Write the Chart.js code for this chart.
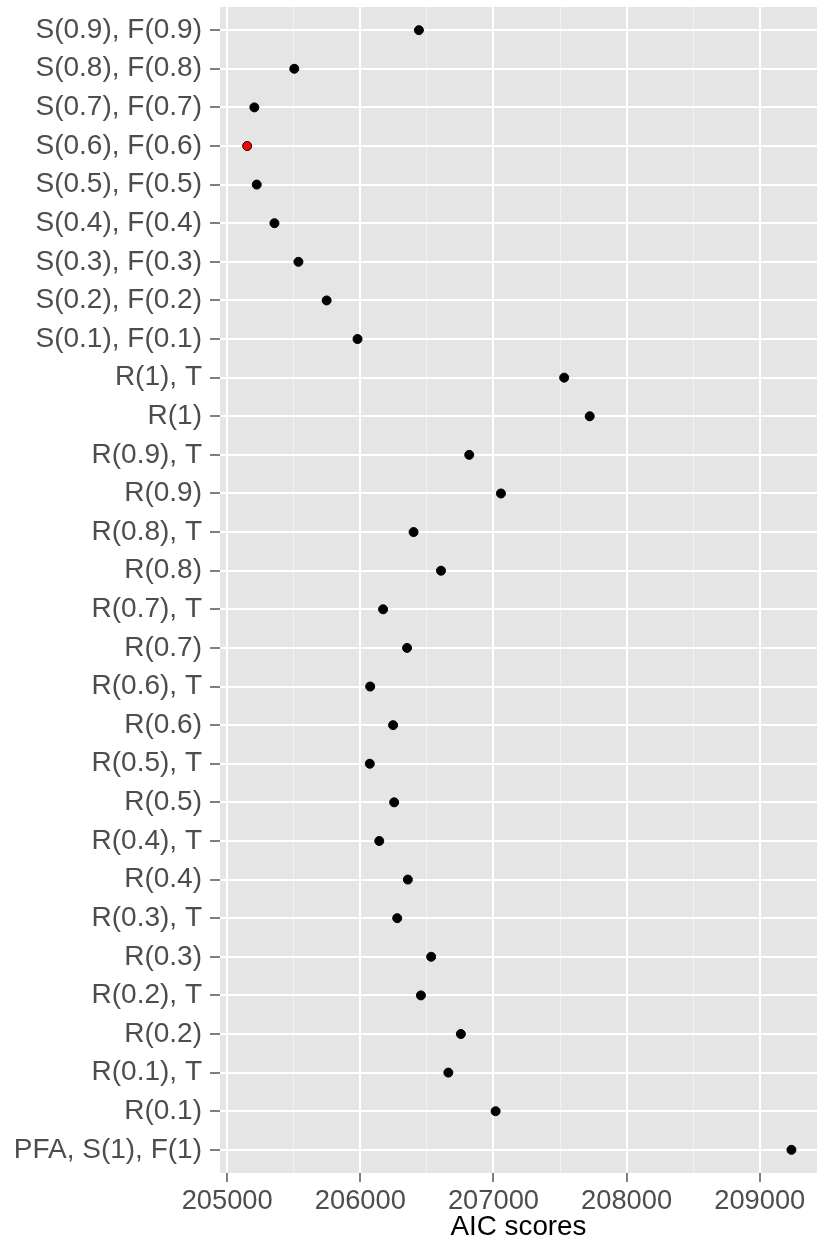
<!DOCTYPE html>
<html>
<head>
<meta charset="utf-8">
<script src="https://cdn.jsdelivr.net/npm/chart.js@4"></script>
<style>
    html, body { margin: 0; padding: 0; background: #ffffff; }
    #wrap { width: 817px; height: 1244px; }
</style>
</head>
<body>
<div id="wrap"><canvas id="myChart" width="817" height="1244"></canvas></div>
<script>
// models, top to bottom as in the figure
const models = [
    'S(0.9), F(0.9)', 'S(0.8), F(0.8)', 'S(0.7), F(0.7)', 'S(0.6), F(0.6)', 'S(0.5), F(0.5)',
    'S(0.4), F(0.4)', 'S(0.3), F(0.3)', 'S(0.2), F(0.2)', 'S(0.1), F(0.1)',
    'R(1), T', 'R(1)', 'R(0.9), T', 'R(0.9)', 'R(0.8), T', 'R(0.8)', 'R(0.7), T', 'R(0.7)',
    'R(0.6), T', 'R(0.6)', 'R(0.5), T', 'R(0.5)', 'R(0.4), T', 'R(0.4)', 'R(0.3), T', 'R(0.3)',
    'R(0.2), T', 'R(0.2)', 'R(0.1), T', 'R(0.1)', 'PFA, S(1), F(1)'
];
const aicScores = [
    206440, 205504, 205204, 205150, 205222,
    205355, 205535, 205747, 205979,
    207531, 207723, 206818, 207056, 206400, 206606, 206171, 206351,
    206074, 206246, 206071, 206254, 206142, 206357, 206277, 206532,
    206455, 206755, 206661, 207016, 209238
];
const majorTicks = [205000, 206000, 207000, 208000, 209000];
const minorTicks = [205500, 206500, 207500, 208500];

document.addEventListener("DOMContentLoaded", function () {

    const best = aicScores.indexOf(Math.min(...aicScores));
    const points = aicScores.map(function (v, i) {
        return {x: v, y: i};
    });
    const fills = aicScores.map(function (v, i) {
        return i === best ? '#ff0000' : '#000000';
    });

    const panelBg = {
        id: 'panelBg',
        beforeDraw(chart) {
            const a = chart.chartArea;
            const ctx = chart.ctx;
            ctx.save();
            ctx.fillStyle = '#e5e5e5';
            ctx.fillRect(a.left, a.top, a.right - a.left, a.bottom - a.top);
            ctx.restore();
        }
    };

    const family = "'Liberation Sans', Arial, Helvetica, sans-serif";

    const ctx = document.getElementById('myChart').getContext('2d');
    const chart = new Chart(ctx, {
        type: 'scatter',
        data: {
            datasets: [{
                data: points,
                pointRadius: 4.5,
                pointHoverRadius: 4.5,
                pointBorderWidth: 1,
                pointBorderColor: '#000000',
                pointBackgroundColor: fills
            }]
        },
        options: {
            responsive: false,
            animation: false,
            devicePixelRatio: 1,
            layout: {autoPadding: false, padding: {top: 7, right: 0, left: 0, bottom: 0}},
            plugins: {
                legend: {display: false},
                tooltip: {enabled: false}
            },
            scales: {
                x: {
                    type: 'linear',
                    min: 204946,
                    max: 209430,
                    afterBuildTicks: function (axis) {
                        axis.ticks = majorTicks.concat(minorTicks).map(function (v) {
                            return {value: v};
                        });
                    },
                    afterFit: function (axis) {
                        axis.height = 71;
                        axis.paddingLeft = 0;
                        axis.paddingRight = 0;
                    },
                    border: {display: false},
                    grid: {
                        color: function (c) {
                            return c.tick && c.tick.value % 1000 === 0 ? '#ffffff' : '#f2f2f2';
                        },
                        lineWidth: function (c) {
                            return c.tick && c.tick.value % 1000 === 0 ? 2 : 1;
                        },
                        tickColor: function (c) {
                            return c.tick && c.tick.value % 1000 === 0 ? '#7f7f7f' : 'rgba(0,0,0,0)';
                        },
                        tickWidth: 2,
                        tickLength: 9
                    },
                    ticks: {
                        font: {family: family, size: 27.3},
                        color: '#4d4d4d',
                        padding: 3,
                        maxRotation: 0,
                        autoSkip: false,
                        callback: function (v) {
                            return v % 1000 === 0 ? String(v) : '';
                        }
                    },
                    title: {
                        display: true,
                        text: 'AIC scores',
                        color: '#000000',
                        font: {family: family, size: 27.8},
                        padding: {top: 0, bottom: 0}
                    }
                },
                y: {
                    type: 'linear',
                    reverse: true,
                    min: -0.6,
                    max: models.length - 1 + 0.6,
                    afterBuildTicks: function (axis) {
                        axis.ticks = models.map(function (m, i) {
                            return {value: i};
                        });
                    },
                    afterFit: function (axis) {
                        axis.width = 220;
                        axis.paddingTop = 0;
                        axis.paddingBottom = 0;
                    },
                    border: {display: false},
                    grid: {
                        color: '#ffffff',
                        lineWidth: 2,
                        tickColor: '#7f7f7f',
                        tickWidth: 2,
                        tickLength: 10
                    },
                    ticks: {
                        font: {family: family, size: 28},
                        color: '#4d4d4d',
                        padding: 8,
                        autoSkip: false,
                        callback: function (v) {
                            return models[v];
                        }
                    }
                }
            }
        },
        plugins: [panelBg]
    });

});
</script>
</body>
</html>
